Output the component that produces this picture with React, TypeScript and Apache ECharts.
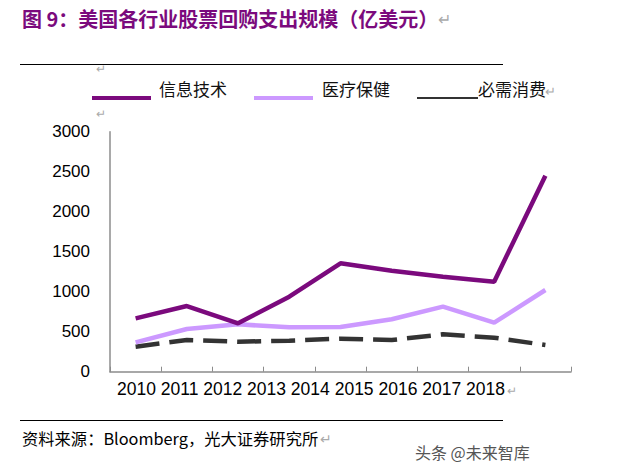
import React, { useEffect, useRef } from "react";
import * as echarts from "echarts";

const categories = ["2010", "2011", "2012", "2013", "2014", "2015", "2016", "2017", "2018"];
const seriesNames = ["信息技术", "医疗保健", "必需消费"];
const infoTech = [667, 821, 605, 937, 1355, 1263, 1188, 1125, 2450];
const healthCare = [367, 534, 592, 555, 559, 655, 813, 613, 1021];
const staples = [313, 396, 375, 388, 413, 396, 467, 425, 334];
const yTicks = [0, 500, 1000, 1500, 2000, 2500, 3000];

const colors = ["#7B0A7D", "#CC99FF", "#333333"];
const titleText = "图 9：美国各行业股票回购支出规模（亿美元）";
const sourceText = "资料来源：Bloomberg，光大证券研究所";
const watermark = "头条 @未来智库";

export default function App() {
  const ref = useRef<HTMLDivElement>(null);
  useEffect(() => {
    if (!ref.current) return;
    const chart = echarts.init(ref.current, null, { renderer: "svg" });
    const font = "'Liberation Sans', Arial, sans-serif";
    const cjk = "'Noto Sans CJK SC', sans-serif";
    const legendX = [[92, 151, 159], [254, 313, 322], [417, 478, 478]];
    const legendGraphics: any[] = [];
    seriesNames.forEach((n, i) => {
      legendGraphics.push({
        type: "line",
        shape: { x1: legendX[i][0], y1: 98, x2: legendX[i][1], y2: 98 },
        style: { stroke: colors[i], lineWidth: i === 2 ? 2 : 4 },
      });
      legendGraphics.push({
        type: "text",
        x: legendX[i][2],
        y: 88,
        style: {
          text: n,
          font: `17px ${cjk}`,
          fill: "#111",
          textVerticalAlign: "middle",
        },
      });
    });
    chart.setOption({
      animation: false,
      backgroundColor: "#fff",
      grid: { left: 110, right: 64, top: 131.7, bottom: 104.3, containLabel: false },
      xAxis: {
        type: "category",
        data: categories,
        boundaryGap: true,
        axisLine: { lineStyle: { color: "#8c8c8c", width: 1.5 } },
        axisTick: { show: true, inside: true, length: 5, alignWithLabel: false, lineStyle: { color: "#8c8c8c" } },
        axisLabel: { show: false },
      },
      yAxis: {
        type: "value",
        min: yTicks[0],
        max: yTicks[yTicks.length - 1],
        interval: 500,
        axisLine: { show: true, lineStyle: { color: "#8c8c8c", width: 1.5 } },
        axisTick: { show: false },
        splitLine: { show: false },
        axisLabel: { color: "#000", fontSize: 17, fontFamily: font, margin: 20, formatter: (v: number) => String(v) },
      },
      series: [
        {
          name: seriesNames[0], type: "line", data: infoTech, symbol: "none",
          lineStyle: { color: colors[0], width: 4.5 }, z: 3,
        },
        {
          name: seriesNames[1], type: "line", data: healthCare, symbol: "none",
          lineStyle: { color: colors[1], width: 4.5 }, z: 2,
        },
        {
          name: seriesNames[2], type: "line", data: staples, symbol: "none",
          lineStyle: { color: colors[2], width: 4.5, type: [24, 10] }, z: 1,
        },
      ],
      graphic: [
        {
          type: "text", x: 22, y: 18,
          style: { text: titleText, font: `bold 20px ${cjk}`, fill: "#7B0A7D", textVerticalAlign: "middle" },
        },
        {
          type: "text", x: 438, y: 18,
          style: { text: "↵", font: `16px ${cjk}`, fill: "#aaa", textVerticalAlign: "middle" },
        },
        { type: "line", shape: { x1: 20, y1: 64.5, x2: 503, y2: 64.5 }, style: { stroke: "#000", lineWidth: 1 } },
        { type: "text", x: 96, y: 67, style: { text: "↵", font: `12px ${cjk}`, fill: "#aaa", textVerticalAlign: "middle" } },
        { type: "text", x: 96, y: 112, style: { text: "↵", font: `12px ${cjk}`, fill: "#aaa", textVerticalAlign: "middle" } },
        ...legendGraphics,
        { type: "text", x: 545, y: 90, style: { text: "↵", font: `13px ${cjk}`, fill: "#aaa", textVerticalAlign: "middle" } },
        {
          type: "text", x: 117, y: 389,
          style: { text: categories.join(" "), font: `17.5px ${font}`, fill: "#000", textVerticalAlign: "middle" },
        },
        { type: "text", x: 507, y: 389, style: { text: "↵", font: `12px ${cjk}`, fill: "#aaa", textVerticalAlign: "middle" } },
        { type: "line", shape: { x1: 20, y1: 420.5, x2: 503, y2: 420.5 }, style: { stroke: "#000", lineWidth: 1 } },
        {
          type: "text", x: 22, y: 438,
          style: { text: sourceText, font: `16.3px ${cjk}`, fill: "#000", textVerticalAlign: "middle" },
        },
        { type: "text", x: 320, y: 438, style: { text: "↵", font: `14px ${cjk}`, fill: "#aaa", textVerticalAlign: "middle" } },
        {
          type: "text", x: 415, y: 452,
          style: { text: watermark, font: `16px ${cjk}`, fill: "#555", textVerticalAlign: "middle" },
        },
      ],
    });
    return () => chart.dispose();
  }, []);
  return <div ref={ref} style={{ position: "fixed", left: 0, top: 0, width: 635, height: 476 }} />;
}
